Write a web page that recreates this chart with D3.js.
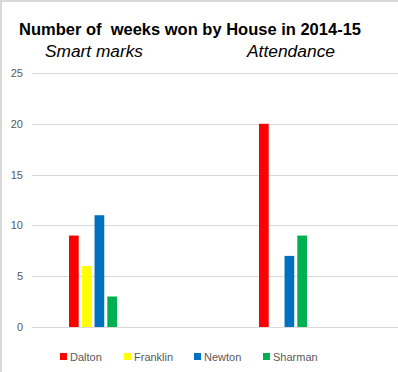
<!DOCTYPE html>
<html><head><meta charset="utf-8">
<script src="https://cdn.jsdelivr.net/npm/d3@7"></script>
<style>body{margin:0;background:#fff}svg{display:block}</style>
</head><body>
<script>
const categories = ["Smart marks", "Attendance"];
const houses = ["Dalton", "Franklin", "Newton", "Sharman"];
const colors = ["#FF0000", "#FFFF00", "#0070C0", "#00B050"];
const values = {
  Dalton:  [9, 20],
  Franklin:[6, 0],
  Newton:  [11, 7],
  Sharman: [3, 9]
};
const yTicks = [0, 5, 10, 15, 20, 25];

const W = 398, H = 372;
const svg = d3.select("body").append("svg").attr("width", W).attr("height", H);
svg.append("rect").attr("width", W).attr("height", H).attr("fill", "#fff");
// border (left & top visible)
svg.append("line").attr("x1",1).attr("x2",1).attr("y1",0).attr("y2",H).attr("stroke","#d9d9d9").attr("stroke-width",2);
svg.append("line").attr("x1",0).attr("x2",W).attr("y1",1).attr("y2",1).attr("stroke","#d9d9d9").attr("stroke-width",2);

const y = d3.scaleLinear().domain([0, 25]).range([327, 73]);
const x0 = d3.scaleBand().domain(categories).range([-2, 378]);
const x1 = d3.scaleBand().domain(houses).range([0, 48]).paddingInner(0.24);

// gridlines
svg.append("g").selectAll("line").data(yTicks).join("line")
  .attr("x1", 32).attr("x2", W).attr("y1", d => Math.round(y(d)) + 0.5).attr("y2", d => Math.round(y(d)) + 0.5)
  .attr("stroke", "#d9d9d9").attr("stroke-width", 1);

const yAxis = d3.axisLeft(y).tickValues(yTicks).tickSize(0).tickPadding(0);
const ga = svg.append("g").attr("transform", "translate(23,0)").call(yAxis);
ga.select(".domain").remove();
ga.selectAll("text").attr("fill", "#595959").attr("font-family", "Liberation Sans, Arial, sans-serif").attr("font-size", 11);

// bars
const groups = svg.append("g").selectAll("g").data(categories).join("g")
  .attr("transform", c => `translate(${x0(c) + x0.bandwidth()/2 - 24},0)`);
groups.selectAll("rect").data((c, i) => houses.map((h, j) => ({h, v: values[h][i], col: colors[j]}))).join("rect")
  .attr("x", d => x1(d.h)).attr("width", x1.bandwidth())
  .attr("y", d => y(d.v)).attr("height", d => y(0) - y(d.v))
  .attr("fill", d => d.col);

// title
svg.append("text").attr("x", 19).attr("y", 35).attr("font-family", "Liberation Sans, Arial, sans-serif")
  .attr("font-weight", "bold").attr("font-size", 16.5).attr("fill", "#000")
  .attr("textLength", 342).attr("lengthAdjust", "spacingAndGlyphs").attr("xml:space", "preserve")
  .text("Number of  weeks won by House in 2014-15");
// subtitles
const subX = [[45, 98], [247, 88]];
svg.append("g").selectAll("text").data(categories).join("text")
  .attr("x", (d, i) => subX[i][0]).attr("y", 57)
  .attr("font-family", "Liberation Sans, Arial, sans-serif").attr("font-style", "italic").attr("font-size", 16)
  .attr("fill", "#000").attr("textLength", (d, i) => subX[i][1]).attr("lengthAdjust", "spacingAndGlyphs")
  .text(d => d);

// legend
const legX = [60, 124, 194, 263];
const lg = svg.append("g").selectAll("g").data(houses).join("g")
  .attr("transform", (d, i) => `translate(${legX[i]},353)`);
lg.append("rect").attr("width", 7).attr("height", 7).attr("fill", (d, i) => colors[i]);
lg.append("text").attr("x", 10).attr("y", 7.5).attr("font-family", "Liberation Sans, Arial, sans-serif")
  .attr("font-size", 11).attr("fill", "#595959").text(d => d);
</script>
</body></html>
